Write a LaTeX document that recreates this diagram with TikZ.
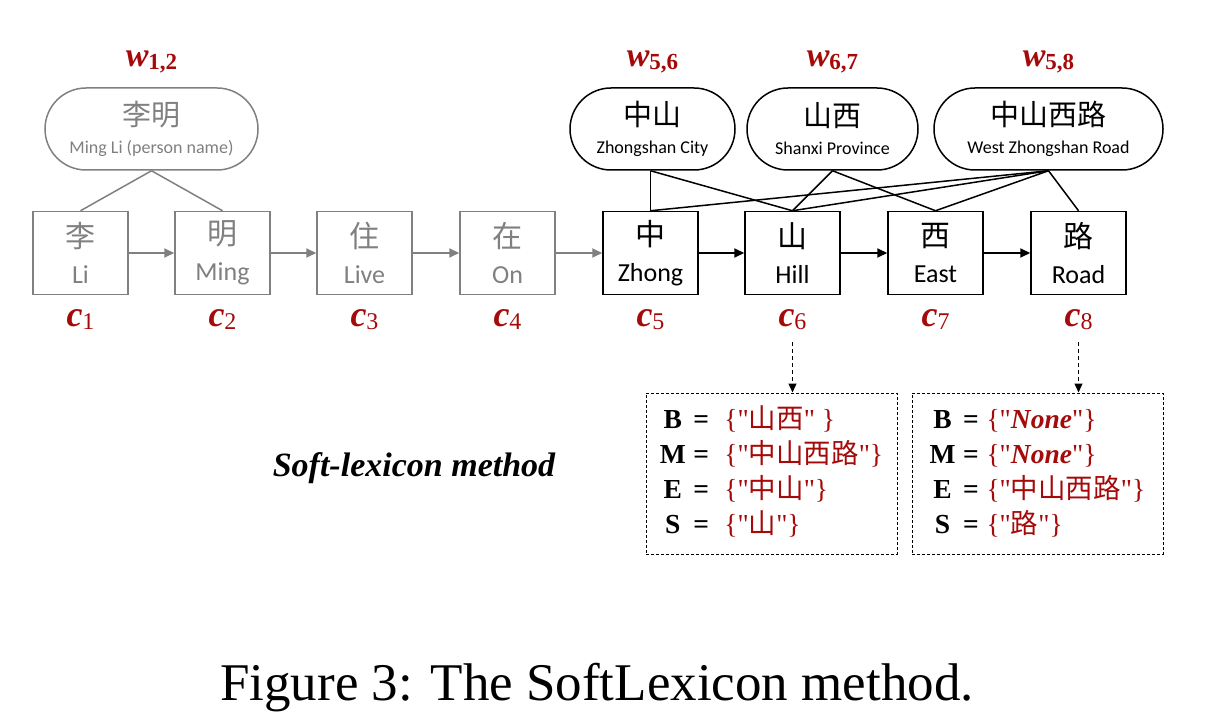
\documentclass[tikz,border=0pt]{standalone}
\usepackage{fontspec}
\usepackage{xcolor}
\usepackage{tikz}
\setmainfont{Liberation Serif}
\setsansfont{Carlito}
\newfontfamily\cjk{Noto Sans CJK SC}
\usetikzlibrary{arrows.meta, positioning}
\definecolor{slred}{HTML}{A50A0A}
\definecolor{slgray}{HTML}{808080}

% character box text: Chinese on top, English below
\newcommand{\chartext}[2]{{\cjk\fontsize{30}{36}\selectfont #1}\\{\sffamily\fontsize{26}{36}\selectfont #2}}
% word text: Chinese word, English gloss
\newcommand{\wordtext}[2]{{\cjk\fontsize{29}{30}\selectfont #1}\\{\sffamily\fontsize{18}{27}\selectfont #2}}
% index labels
\newcommand{\clabel}[1]{{\fontsize{36}{38}\selectfont\bfseries\itshape c}\raisebox{-0.3em}{\fontsize{24}{24}\selectfont #1}}
\newcommand{\wlabel}[1]{{\fontsize{34}{36}\selectfont\bfseries\itshape w}\raisebox{-0.3em}{\fontsize{23}{24}\selectfont\bfseries #1}}
\newcommand{\zh}[1]{{\cjk #1}}
\newcommand{\q}{\textquotedbl}

\begin{document}
\begin{tikzpicture}[
    x=1pt, y=-1pt,
    charbox/.style={draw, line width=1.5pt, minimum width=95pt, minimum height=83pt, align=center, inner sep=0pt, font=\fontsize{26}{36}\selectfont},
    wordbox/.style={draw, line width=1.5pt, rounded corners=41pt, minimum height=82pt, align=center, inner sep=0pt, font=\fontsize{18}{28}\selectfont},
    lexbox/.style={draw, dashed, line width=1pt, dash pattern=on 3pt off 2pt, minimum width=251pt, minimum height=161pt, inner sep=0pt},
    idx/.style={text=slred, inner sep=0pt},
    link/.style={line width=1.5pt},
    next/.style={line width=2pt, -{Triangle[length=10pt, width=9pt]}},
    pointer/.style={line width=1.2pt, dash pattern=on 4pt off 3pt, -{Triangle[length=9pt, width=8pt]}},
]
    \useasboundingbox (0,0) rectangle (1210,714);

    % characters
    \node[charbox, slgray] (b1) at (80.5,253) {\chartext{李}{Li}};
    \node[charbox, slgray] (b2) at (222.5,253) {\chartext{明}{Ming}};
    \node[charbox, slgray] (b3) at (364.5,253) {\chartext{住}{Live}};
    \node[charbox, slgray] (b4) at (507.5,253) {\chartext{在}{On}};
    \node[charbox] (b5) at (650.5,253) {\chartext{中}{Zhong}};
    \node[charbox] (b6) at (792.5,253) {\chartext{山}{Hill}};
    \node[charbox] (b7) at (935.5,253) {\chartext{西}{East}};
    \node[charbox] (b8) at (1078.5,253) {\chartext{路}{Road}};

    \node[idx, below=14pt of b1] (c1) {\clabel{1}};
    \node[idx, below=14pt of b2] (c2) {\clabel{2}};
    \node[idx, below=14pt of b3] (c3) {\clabel{3}};
    \node[idx, below=14pt of b4] (c4) {\clabel{4}};
    \node[idx, below=14pt of b5] (c5) {\clabel{5}};
    \node[idx, below=14pt of b6] (c6) {\clabel{6}};
    \node[idx, below=14pt of b7] (c7) {\clabel{7}};
    \node[idx, below=14pt of b8] (c8) {\clabel{8}};

    % chain
    \draw[next, slgray] (b1) -- (b2);
    \draw[next, slgray] (b2) -- (b3);
    \draw[next, slgray] (b3) -- (b4);
    \draw[next, slgray] (b4) -- (b5);
    \draw[next] (b5) -- (b6);
    \draw[next] (b6) -- (b7);
    \draw[next] (b7) -- (b8);

    % matched words
    \node[wordbox, slgray, minimum width=213pt] (w12) at (151.5,129) {\wordtext{李明}{Ming Li (person name)}};
    \node[wordbox, minimum width=165pt] (w56) at (652.5,129) {\wordtext{中山}{Zhongshan City}};
    \node[wordbox, minimum width=171pt] (w67) at (832.5,129) {\wordtext{山西}{Shanxi Province}};
    \node[wordbox, minimum width=229pt] (w58) at (1048.5,129) {\wordtext{中山西路}{West Zhongshan Road}};

    \node[idx, above=14pt of w12] (lw12) {\wlabel{1,2}};
    \node[idx, above=14pt of w56] (lw56) {\wlabel{5,6}};
    \node[idx, above=14pt of w67] (lw67) {\wlabel{6,7}};
    \node[idx, above=14pt of w58] (lw58) {\wlabel{5,8}};

    \draw[link, slgray] (w12.south) -- (b1.north);
    \draw[link, slgray] (w12.south) -- (b2.north);
    \draw[link] (w56.south -| b5.north) -- (b5.north);
    \draw[link] (w56.south -| b5.north) -- (b6.north);
    \draw[link] (w67.south) -- (b6.north);
    \draw[link] (w67.south) -- (b7.north);
    \draw[link] (w58.south) -- (b5.north);
    \draw[link] (w58.south) -- (b6.north);
    \draw[link] (w58.south) -- (b7.north);
    \draw[link] (w58.south) -- (b8.north);

    % soft-lexicon sets
    \node[lexbox] (lex6) at (771.5,473.5) {\fontsize{27.5}{35}\selectfont
        \begin{tabular}{@{}c@{\;\textbf{=}\;\;}l@{}}
        \textbf{B} & \textcolor{slred}{\{\q\zh{山西}\q\ \}}\\
        \textbf{M} & \textcolor{slred}{\{\q\zh{中山西路}\q\}}\\
        \textbf{E} & \textcolor{slred}{\{\q\zh{中山}\q\}}\\
        \textbf{S} & \textcolor{slred}{\{\q\zh{山}\q\}}
        \end{tabular}};
    \node[lexbox] (lex8) at (1037.5,473.5) {\fontsize{27.5}{35}\selectfont
        \begin{tabular}{@{}c@{\;\textbf{=}\;}l@{}}
        \textbf{B} & \textcolor{slred}{\{\q\textbf{\textit{None}}\q\}}\\
        \textbf{M} & \textcolor{slred}{\{\q\textbf{\textit{None}}\q\}}\\
        \textbf{E} & \textcolor{slred}{\{\q\zh{中山西路}\q\}}\\
        \textbf{S} & \textcolor{slred}{\{\q\zh{路}\q\}}
        \end{tabular}};

    \coordinate (d6) at ([yshift=-47pt]b6.south);
    \coordinate (d8) at ([yshift=-47pt]b8.south);
    \draw[pointer] (d6) -- (d6 |- lex6.north);
    \draw[pointer] (d8) -- (d8 |- lex8.north);

    \node[font=\fontsize{34}{38}\selectfont\bfseries\itshape] (title) at (414,468) {Soft-lexicon method};

    % caption
    \node[font=\fontsize{53}{60}\selectfont] (caption) at (597,688) {Figure 3: The SoftLexicon method.};
\end{tikzpicture}
\end{document}
